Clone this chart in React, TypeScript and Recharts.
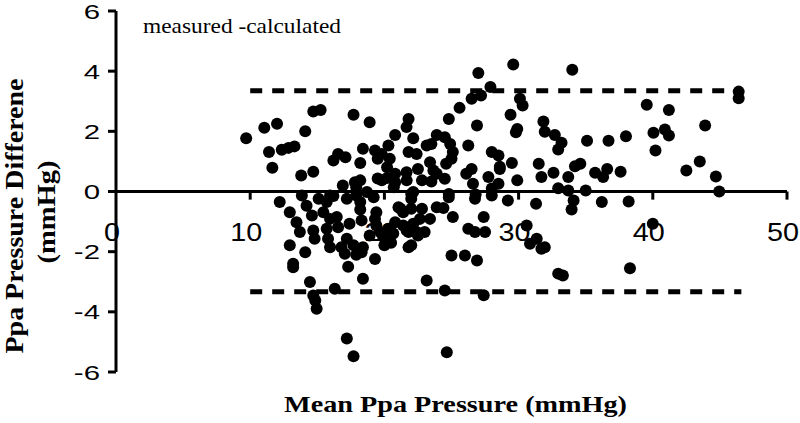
import React from 'react';
import { ScatterChart, Scatter, XAxis, YAxis, ReferenceLine } from 'recharts';

// mean of measured and calculated Ppa (mmHg)
const meanPressure = [
  9.7, 11.05, 12.0, 11.4, 12.35, 12.85, 13.3, 11.65, 13.8, 14.7, 14.1, 14.7, 15.25, 17.7, 18.9, 16.2, 16.55, 17.1, 18.2, 18.4,
  19.3, 16.9, 17.8, 19.5, 29.6, 27.0, 27.9, 27.2, 26.5, 25.6, 24.8, 26.9, 30.1, 30.3, 29.4, 29.9, 29.8, 21.8, 21.65, 20.8,
  22.15, 23.9, 24.5, 23.5, 24.9, 25.1, 25.0, 23.15, 20.3, 19.8, 20.4, 21.8, 22.4, 26.25, 28.0, 28.5, 29.5, 26.5, 26.1, 28.6,
  27.75, 24.6, 24.5, 23.4, 23.65, 22.5, 21.65, 19.5, 20.2, 20.8, 19.8, 20.8, 22.8, 23.5, 26.6, 28.5, 29.9, 34.0, 46.4, 46.4,
  39.55, 41.2, 43.9, 31.85, 31.95, 32.7, 33.2, 32.95, 35.1, 36.7, 38.0, 40.05, 40.9, 41.2, 40.2, 43.5, 42.5, 44.7, 44.95, 31.5,
  31.7, 32.6, 33.7, 34.2, 34.6, 35.7, 36.3, 36.6, 37.6, 32.95, 33.7, 35.0, 31.3, 34.1, 33.95, 36.2, 38.2, 40.0, 30.6, 30.85,
  31.35, 31.7, 31.95, 32.95, 33.3, 38.3, 24.4, 25.1, 24.8, 26.75, 28.0, 29.2, 27.4, 26.25, 26.75, 27.5, 25.0, 26.0, 26.9, 23.15,
  24.5, 27.4, 21.8, 23.4, 23.0, 22.5, 21.8, 21.2, 20.8, 21.4, 20.3, 20.0, 19.3, 22.0, 22.8, 19.3, 19.7, 12.2, 12.95, 13.45,
  13.7, 12.95, 14.1, 13.2, 13.2, 14.45, 14.7, 14.85, 14.95, 17.2, 17.7, 24.65, 16.3, 18.4, 17.3, 17.05, 17.7, 18.3, 14.7, 14.8,
  15.7, 15.8, 15.95, 13.85, 14.2, 14.6, 15.1, 15.45, 15.95, 16.45, 16.55, 15.95, 17.2, 18.2, 18.7, 19.4, 19.4, 18.9, 17.2, 24.8,
  22.0, 26.8, 28.0, 17.9, 18.2, 20.7, 16.2, 28.6, 23.9, 20.2, 21.66, 22.15, 15.7, 17.9, 19.2, 18.2, 17.4, 18.3, 19.9, 16.8,
  18.4, 17.9, 20.66, 20.5, 21.05, 21.4, 22.0, 22.65, 22.15, 21.66, 22.4, 22.0, 23.9,
];

// measured - calculated (mmHg)
const pressureDiff = [
  1.77, 2.12, 2.25, 1.31, 1.39, 1.45, 1.5, 0.79, 0.53, 0.66, 2.0, 2.66, 2.71, 2.55, 2.3, 1.03, 1.25, 1.14, 0.95, 1.42,
  1.36, 0.2, 0.31, 0.43, 4.22, 3.94, 3.47, 3.19, 3.08, 2.78, 2.41, 2.19, 3.08, 2.86, 2.55, 2.08, 1.97, 2.41, 2.14, 1.88,
  1.77, 1.88, 1.8, 1.58, 1.58, 1.31, 1.09, 1.53, 1.53, 1.25, 1.09, 1.31, 1.25, 1.53, 1.31, 1.2, 0.95, 0.75, 0.59, 0.75,
  0.48, 0.92, 0.42, 0.97, 0.7, 0.75, 0.64, 1.09, 0.81, 0.59, 0.37, 0.31, 0.37, 0.33, 0.26, 0.26, 0.37, 4.05, 3.32, 3.1,
  2.88, 2.71, 2.19, 2.33, 1.99, 1.88, 1.62, 1.4, 1.69, 1.69, 1.84, 1.95, 2.06, 1.86, 1.36, 1.0, 0.7, 0.5, 0.0, 0.92,
  0.48, 0.62, 0.48, 0.84, 0.92, 0.62, 0.48, 0.75, 0.66, 0.11, 0.03, 0.03, -0.41, -0.3, -0.6, -0.35, -0.33, -1.07, -1.13, -1.74,
  -1.57, -1.9, -1.85, -2.73, -2.79, -2.55, -0.55, -0.85, -0.19, -0.24, -0.13, -0.3, -0.85, -1.24, -1.35, -1.35, -2.13, -2.13, -2.29, -2.96,
  -3.29, -3.45, -1.85, -0.91, -1.35, -1.46, -1.35, -0.57, -1.02, -1.13, -1.24, -1.79, -2.24, -0.24, -0.57, -0.91, -1.35, -0.35, -0.69, -1.02,
  -1.35, -1.79, -2.02, -2.4, -2.52, -3.01, -3.46, -3.62, -3.9, -4.89, -5.48, -5.34, -3.23, -2.9, -2.5, -2.07, -1.79, -2.02, -1.3, -1.57,
  -1.24, -1.57, -1.85, -0.13, -0.47, -0.8, -0.24, -0.69, -0.91, -0.85, -1.19, -0.13, -0.24, -0.35, -0.02, -0.69, -1.13, -1.46, -1.57, -0.08,
  -0.08, -0.1, 0.1, 0.14, 0.37, 0.14, -0.15, 0.82, 0.59, 0.45, 0.37, -0.02, -0.35, -0.13, -0.19, -0.6, -1.07, -0.96, -1.5, -1.85,
  -1.85, -2.1, -1.4, -1.7, -0.52, -0.69, -0.57, -0.91, -1.07, -1.3, -1.35, -1.79, -0.52,
];

const xTicks = [0, 10, 20, 30, 40, 50];
const yTicks = [-6, -4, -2, 0, 2, 4, 6];
const upperLimit = 3.35;
const lowerLimit = -3.33;
const limitStart = 10;
const limitEnd = 46.6;

const points = meanPressure.map((x, i) => ({ x, y: pressureDiff[i] }));

const sans = '"Liberation Sans", Arial, sans-serif';
const serif = '"Liberation Serif", "Times New Roman", serif';

const YTick = (props: any) => {
  const { x, y, payload } = props;
  return (
    <g transform={`translate(${x},${y}) scale(1.4,1)`}>
      <text x={0} y={0} dy="0.36em" textAnchor="end" fontSize={21} fontFamily={sans} fill="#000">
        {payload.value}
      </text>
    </g>
  );
};

// the x labels sit under the zero line, not at the bottom of the plot
const X_LABEL_LIFT = 140;
const XTick = (props: any) => {
  const { x, y, payload } = props;
  return (
    <g transform={`translate(${x - 4},${y - X_LABEL_LIFT}) scale(1.15,1)`}>
      <text x={0} y={0} dy="0.36em" textAnchor="middle" fontSize={25} fontFamily={sans} fill="#000">
        {payload.value}
      </text>
    </g>
  );
};

const Dot = (props: any) => <circle cx={props.cx} cy={props.cy} r={6} fill="#000" />;

export default function App() {
  return (
    <div style={{ position: 'absolute', left: 0, top: 0, width: 800, height: 423, background: '#fff' }}>
      <ScatterChart width={800} height={423} margin={{ top: 11, right: 13, bottom: 21, left: 0 }}>
        <XAxis
          type="number"
          dataKey="x"
          domain={[0, 50]}
          ticks={xTicks}
          axisLine={false}
          tickLine={false}
          tickSize={0}
          tickMargin={0}
          height={30}
          tick={<XTick />}
          interval={0}
        />
        <YAxis
          type="number"
          dataKey="y"
          domain={[-6, 6]}
          ticks={yTicks}
          width={116}
          axisLine={{ stroke: '#000', strokeWidth: 3 }}
          tickLine={{ stroke: '#000', strokeWidth: 3 }}
          tickSize={8}
          tickMargin={8}
          tick={<YTick />}
          interval={0}
        />
        <ReferenceLine y={0} stroke="#000" strokeWidth={3} />
        {xTicks.slice(1).map((t) => (
          <ReferenceLine key={t} segment={[{ x: t, y: 0 }, { x: t, y: -0.27 }]} stroke="#000" strokeWidth={3} />
        ))}
        <ReferenceLine
          segment={[{ x: limitStart, y: upperLimit }, { x: limitEnd, y: upperLimit }]}
          stroke="#000"
          strokeWidth={5}
          strokeDasharray="12 10"
        />
        <ReferenceLine
          segment={[{ x: limitStart, y: lowerLimit }, { x: limitEnd, y: lowerLimit }]}
          stroke="#000"
          strokeWidth={5}
          strokeDasharray="12 10"
        />
        <Scatter data={points} fill="#000" shape={<Dot />} isAnimationActive={false} />
      </ScatterChart>
      <svg width={800} height={423} style={{ position: 'absolute', left: 0, top: 0, pointerEvents: 'none' }}>
        <text x={143} y={33} fontSize={21} fontFamily={serif} textLength={198} lengthAdjust="spacingAndGlyphs" fill="#000">
          measured -calculated
        </text>
        <text x={284} y={412} fontSize={24} fontWeight="bold" fontFamily={serif} textLength={343} lengthAdjust="spacingAndGlyphs" fill="#000">
          Mean Ppa Pressure (mmHg)
        </text>
        <text transform="translate(23,216) rotate(-90)" textAnchor="middle" fontSize={26} fontWeight="bold" fontFamily={serif} textLength={275} lengthAdjust="spacingAndGlyphs" fill="#000">
          Ppa Pressure Differene
        </text>
        <text transform="translate(55,212) rotate(-90)" textAnchor="middle" fontSize={26} fontWeight="bold" fontFamily={serif} textLength={103} lengthAdjust="spacingAndGlyphs" fill="#000">
          (mmHg)
        </text>
      </svg>
    </div>
  );
}
